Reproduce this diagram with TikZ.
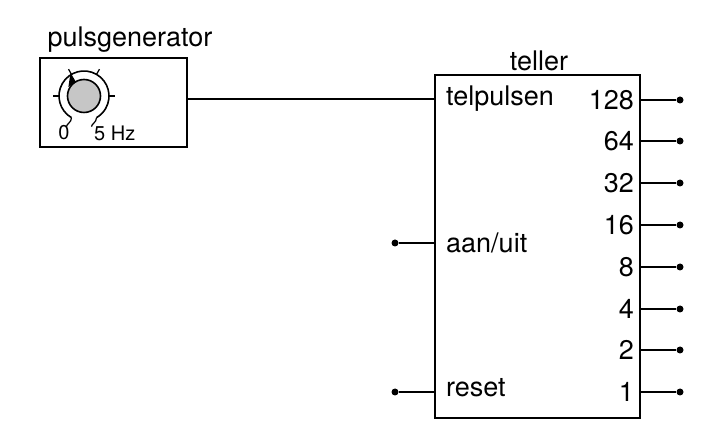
\documentclass[tikz,border=0pt]{standalone}
\usepackage{fontspec}
\setmainfont{TeX Gyre Heros}
\usetikzlibrary{positioning}
\tikzset{
  blok/.style={draw, line width=1.6pt},
  pin/.style={line width=1.6pt},
  dot/.style={circle, fill, inner sep=0pt, minimum size=7pt},
  lbl/.style={inner sep=0pt, font=\fontsize{27}{30}\selectfont},
  klein/.style={inner sep=0pt, font=\fontsize{20}{22}\selectfont},
}
\begin{document}
\begin{tikzpicture}[x=1pt,y=-1pt]
\useasboundingbox (0,0) rectangle (707,443);
% pulsgenerator
\node[blok, minimum width=147pt, minimum height=89pt, inner sep=0pt] (gen) at (113.5,102.5) {};
\node[lbl, anchor=south] at (130,53) {pulsgenerator};
\node[circle, draw, fill=gray!45, line width=1.6pt, minimum size=33pt, inner sep=0pt] (kn) at (84,96) {};
\begin{scope}[shift={(kn.center)}, x=1pt, y=1pt]
  \draw[line width=1.6pt] (-120:25) arc[start angle=240, end angle=-60, radius=25];
  \draw[line width=1.2pt] (-120:25) .. controls +(0,-5) and +(0,3) .. +(-5,-9);
  \draw[line width=1.2pt] (-60:25) .. controls +(0,-5) and +(0,3) .. +(-5,-9);
  \foreach \a in {180,120,60,0}
    \draw[line width=1.2pt] (\a:25) -- (\a:31);
  \fill (120:16) -- (150:18) -- (120:27) -- cycle;
\end{scope}
\node[klein] at (64,133) {0};
\node[klein, anchor=west] at (94,133) {5 Hz};
% teller
\node[blok, minimum width=205pt, minimum height=343pt, inner sep=0pt] (tel) at (537.5,246.5) {};
\node[lbl, anchor=south] at (539,71) {teller};
\node[lbl, anchor=west] (tp) at (446,99) {telpulsen};
\node[lbl, anchor=west] (au) at (446,243) {aan/uit};
\node[lbl, anchor=west] (rs) at (446,388) {reset};
\draw[pin] (gen.east |- tp) -- (tel.west |- tp);
\node[dot] (dau) at (395,243) {};
\node[dot] (drs) at (395,392) {};
\draw[pin] (dau) -- (tel.west |- dau);
\draw[pin] (drs) -- (tel.west |- drs);
\foreach \v/\y in {128/100,64/141,32/183,16/225,8/267,4/309,2/350,1/392}{
  \node[lbl, anchor=east] (o\v) at (634,\y) {\v};
  \node[dot] (d\v) at (680,\y) {};
  \draw[pin] (tel.east |- d\v) -- (d\v);
}
\end{tikzpicture}
\end{document}
